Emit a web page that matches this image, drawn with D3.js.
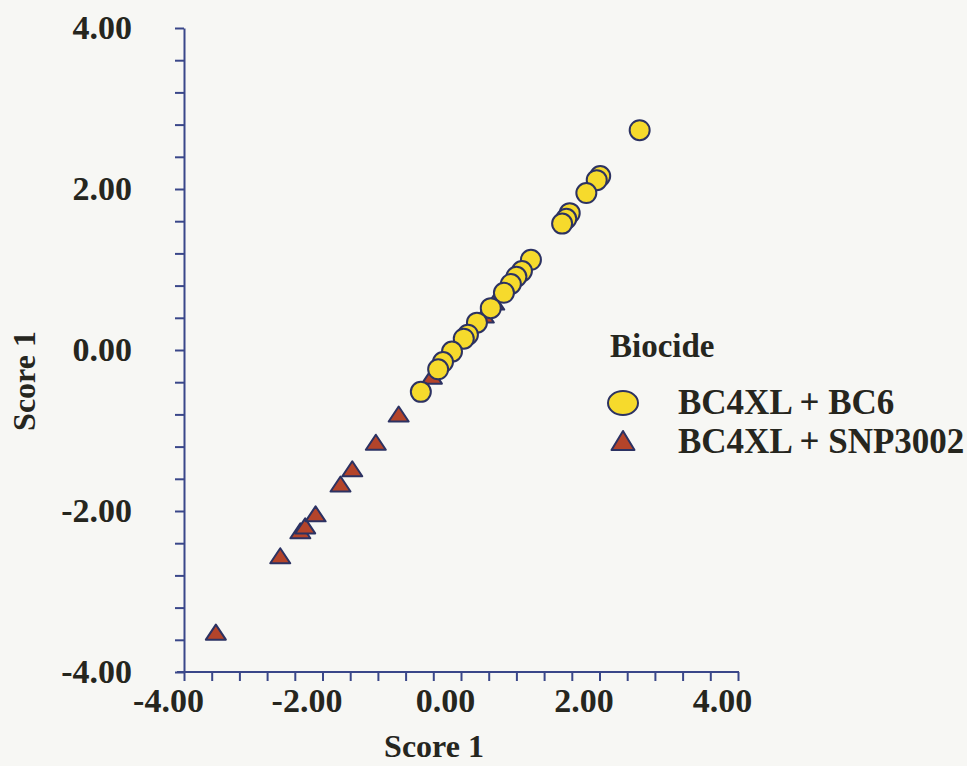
<!DOCTYPE html>
<html>
<head>
<meta charset="utf-8">
<script src="https://cdn.jsdelivr.net/npm/d3@7"></script>
<style>
  body { margin: 0; background: #f7f7f4; }
  svg { display: block; }
  text { font-family: "Liberation Serif", "Times New Roman", serif; font-weight: bold; fill: #26261e; }
</style>
</head>
<body>
<svg id="chart_svg" width="967" height="766"></svg>
<script>
// points: [score x, score y]
const bc6X = [2.58, 2.01, 1.96, 1.81, 1.57, 1.52, 1.46, 1.01, 0.88, 0.80, 0.72, 0.62, 0.43, 0.23, 0.10, 0.04, -0.13, -0.26, -0.33, -0.58];
const bc6Y = [2.73, 2.16, 2.11, 1.95, 1.70, 1.63, 1.57, 1.12, 0.98, 0.91, 0.82, 0.71, 0.52, 0.34, 0.19, 0.14, -0.02, -0.15, -0.24, -0.52];
const snpX = [-3.54, -2.61, -2.32, -2.25, -2.10, -1.74, -1.57, -1.23, -0.90, -0.42, 0.33, 0.48];
const snpY = [-3.52, -2.57, -2.26, -2.20, -2.05, -1.68, -1.49, -1.16, -0.81, -0.34, 0.42, 0.58];
const tickValues = d3.range(-4, 4.001, 0.4).map(v => +v.toFixed(2));
const labelValues = [-4, -2, 0, 2, 4];
const legendTitle = "Biocide";
const legendLabels = ["BC4XL + BC6", "BC4XL + SNP3002"];

const axisColor = "#3a4789";
const markStroke = "#2c3262";
const yellow = "#f6da2c";
const brown = "#b4442a";

const svg = d3.select("#chart_svg");

const xScale = d3.scaleLinear().domain([-4, 4]).range([184, 738]);
const yScale = d3.scaleLinear().domain([-4, 4]).range([672, 28]);

// plain hyphen for the minus sign, like the original
const fmt = d => labelValues.some(l => Math.abs(l - d) < 1e-6) ? d.toFixed(2) : "";

// y axis
const yAxis = svg.append("g")
    .attr("transform", `translate(${xScale(-4)},0)`)
    .call(d3.axisLeft(yScale).tickValues(tickValues).tickFormat(fmt).tickSize(9).tickSizeOuter(0).tickPadding(43));

// x axis
const xAxis = svg.append("g")
    .attr("transform", `translate(0,${yScale(-4)})`)
    .call(d3.axisBottom(xScale).tickValues(tickValues).tickFormat(fmt).tickSize(9).tickSizeOuter(0).tickPadding(7));

xAxis.select(".domain").attr("d", `M${xScale(-4) - 7},0H${xScale(4) + 1}`);

[yAxis, xAxis].forEach(ax => {
    ax.selectAll(".domain, .tick line").attr("stroke", axisColor).attr("stroke-width", 2);
    ax.selectAll(".tick text").style("font-size", "34px").attr("fill", "#26261e");
});
xAxis.selectAll(".tick text").attr("dx", -16);

// axis titles
svg.append("text")
    .attr("x", 434).attr("y", 757)
    .attr("text-anchor", "middle")
    .style("font-size", "32px")
    .text("Score 1");

svg.append("text")
    .attr("transform", "translate(35,381) rotate(-90)")
    .attr("text-anchor", "middle")
    .style("font-size", "32px")
    .text("Score 1");

// triangle marker path
const tri = (w, h) => `M0,${-h * 0.58}L${w / 2},${h * 0.42}L${-w / 2},${h * 0.42}Z`;

const bc6 = bc6X.map((x, i) => ({ x: x, y: bc6Y[i] }));
const snp = snpX.map((x, i) => ({ x: x, y: snpY[i] }));

const plot = svg.append("g");

plot.selectAll(".snp")
    .data(snp)
    .join("path")
    .attr("class", "snp")
    .attr("transform", d => `translate(${xScale(d.x)},${yScale(d.y)})`)
    .attr("d", tri(20, 15))
    .attr("fill", brown)
    .attr("stroke", markStroke)
    .attr("stroke-width", 2)
    .attr("stroke-linejoin", "round");

plot.selectAll(".bc6")
    .data(bc6)
    .join("circle")
    .attr("class", "bc6")
    .attr("cx", d => xScale(d.x))
    .attr("cy", d => yScale(d.y))
    .attr("r", 10)
    .attr("fill", yellow)
    .attr("stroke", markStroke)
    .attr("stroke-width", 2);

// legend
const legend = svg.append("g");
legend.append("text")
    .attr("x", 610).attr("y", 357)
    .style("font-size", "33px")
    .text(legendTitle);

legend.append("ellipse")
    .attr("cx", 623).attr("cy", 403)
    .attr("rx", 15).attr("ry", 12)
    .attr("fill", yellow)
    .attr("stroke", markStroke)
    .attr("stroke-width", 2);

legend.append("path")
    .attr("transform", "translate(623,442)")
    .attr("d", tri(23, 19))
    .attr("fill", brown)
    .attr("stroke", markStroke)
    .attr("stroke-width", 2)
    .attr("stroke-linejoin", "round");

legend.selectAll(".legend-label")
    .data(legendLabels)
    .join("text")
    .attr("class", "legend-label")
    .attr("x", 678)
    .attr("y", (d, i) => 414 + i * 39)
    .style("font-size", "35px")
    .text(d => d);
</script>
</body>
</html>
